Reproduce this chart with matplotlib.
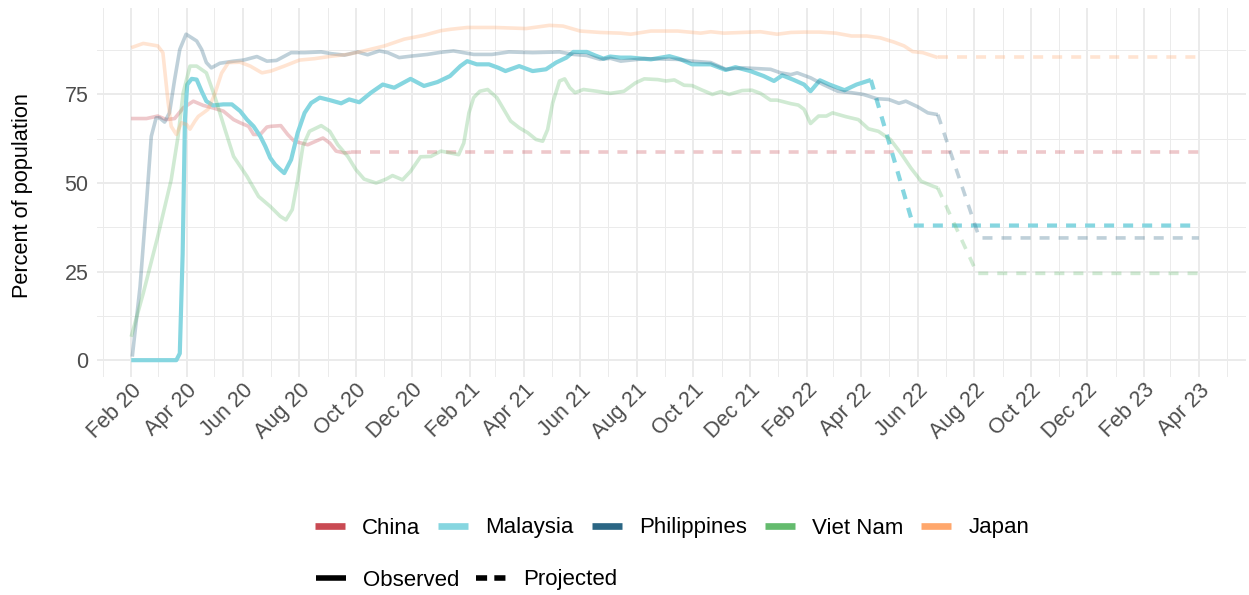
import matplotlib
matplotlib.use("Agg")
import matplotlib.pyplot as plt
import matplotlib.dates as mdates
import numpy as np
import pandas as pd
from matplotlib.lines import Line2D

plt.rcParams['font.family'] = ['Liberation Sans', 'DejaVu Sans']

# ---------------- data (x = months since Feb 2020) ----------------
countries = ["China", "Malaysia", "Philippines", "Viet Nam", "Japan"]
colors = ["#C94A53", "#86D6E0", "#2B6684", "#64BB6E", "#FFA76C"]

china_obs_m = [0, 0.57, 0.99, 1.29, 1.58, 1.88, 2.24, 2.6, 2.95, 3.31, 3.67, 3.9, 4.2, 4.38, 4.62,
               4.86, 5.0, 5.35, 5.59, 5.82, 6.29, 6.82, 7.06, 7.29, 7.59, 7.82]
china_obs_v = [68.2, 68.2, 68.9, 67.9, 68.2, 71.2, 73.1, 71.9, 71.2, 70.3, 67.9, 67.0, 66.0, 63.7, 63.7,
               65.8, 66.0, 66.2, 63.7, 61.8, 60.8, 62.7, 61.3, 59.0, 58.5, 58.7]
china_proj_m = [7.82, 38]
china_proj_v = [58.7, 58.7]

malaysia_obs_m = [0, 1.64, 1.76, 1.86, 1.94, 2.02, 2.18, 2.36, 2.54, 2.71, 2.95, 3.31, 3.61, 3.9, 4.14,
                  4.38, 4.62, 4.8, 4.98, 5.15, 5.33, 5.47, 5.71, 5.94, 6.18, 6.41, 6.71, 7.06, 7.47,
                  7.76, 8.12, 8.53, 8.94, 9.35, 9.94, 10.41, 10.88, 11.32, 11.68, 11.92, 12.28, 12.75,
                  13.11, 13.35, 13.83, 14.31, 14.79, 15.15, 15.51, 15.75, 16.23, 16.53, 16.83, 17.07,
                  17.43, 17.79, 18.49, 19.14, 19.55, 19.96, 20.61, 21.14, 21.49, 22.02, 22.49, 22.85,
                  23.14, 23.54, 23.9, 24.14, 24.5, 24.87, 25.41, 25.83, 26.34]
malaysia_obs_v = [0, 0, 1.9, 30, 68, 77.8, 79.4, 79.2, 75.9, 73.1, 71.9, 72.2, 72.2, 70.3, 67.9,
                  66.0, 63.2, 60.4, 57.1, 55.2, 53.8, 52.8, 56.6, 64.2, 69.8, 72.6, 74.1, 73.4, 72.5,
                  73.6, 72.8, 75.5, 77.8, 76.9, 79.4, 77.4, 78.5, 80.2, 83.0, 84.4, 83.5, 83.5,
                  82.5, 81.6, 83.0, 81.6, 82.1, 84.0, 85.4, 87.0, 87.0, 86.0, 85.1, 85.7,
                  85.4, 85.4, 84.9, 85.8, 84.9, 83.5, 83.5, 81.9, 82.7, 81.6, 80.2, 78.8,
                  80.4, 79.1, 77.8, 75.9, 79.0, 77.8, 76.2, 77.8, 79.1]
malaysia_proj_m = [26.34, 27.84, 38]
malaysia_proj_v = [79.1, 38.0, 38.0]

philippines_obs_m = [0.04, 0.33, 0.57, 0.75, 0.93, 1.05, 1.23, 1.4, 1.58, 1.76, 1.98, 2.18, 2.36, 2.54,
                     2.71, 2.89, 3.19, 3.67, 4.02, 4.5, 4.86, 5.2, 5.71, 6.18, 6.76, 7.12, 7.59, 8.06,
                     8.41, 8.82, 9.12, 9.53, 9.94, 10.53, 11.0, 11.44, 12.16, 12.87, 13.47, 14.31,
                     15.27, 15.75, 16.23, 16.71, 17.08, 17.44, 18.26, 19.44, 19.96, 20.61, 21.14,
                     21.78, 22.73, 23.08, 23.44, 23.66, 24.14, 24.63, 25.17, 25.65, 26.07, 26.55,
                     26.98, 27.34, 27.58, 28.0, 28.36, 28.72]
philippines_obs_v = [1.0, 20.7, 44.3, 63.2, 68.4, 68.4, 67.2, 69.8, 79.2, 87.7, 92.0, 91.0, 90.1, 87.7,
                     84.0, 82.5, 83.8, 84.4, 84.7, 85.7, 84.4, 84.6, 86.8, 86.8, 87.0, 86.5, 86.1, 87.0,
                     86.2, 87.3, 86.8, 85.4, 85.8, 86.3, 86.9, 87.3, 86.3, 86.3, 87.0, 86.8,
                     87.0, 86.3, 86.0, 84.9, 85.2, 84.4, 85.1, 84.9, 84.4, 84.0, 82.1,
                     82.5, 82.1, 81.1, 80.6, 81.1, 79.7, 77.8, 75.9, 75.5, 75.0, 73.8,
                     73.6, 72.5, 73.1, 71.5, 69.8, 69.3]
philippines_proj_m = [28.72, 30.18, 38]
philippines_proj_v = [69.3, 34.5, 34.5]

vietnam_obs_m = [0, 0.45, 0.99, 1.46, 1.7, 1.88, 2.12, 2.36, 2.71, 3.01, 3.37, 3.67, 4.14, 4.56, 4.98,
                 5.33, 5.53, 5.75, 5.94, 6.12, 6.35, 6.76, 7.06, 7.35, 7.71, 8.0, 8.29, 8.71, 9.06,
                 9.29, 9.65, 9.94, 10.29, 10.65, 11.0, 11.32, 11.62, 11.8, 11.98, 12.16, 12.4, 12.7,
                 13.05, 13.29, 13.53, 13.83, 14.13, 14.43, 14.67, 14.85, 15.03, 15.27, 15.45, 15.63,
                 15.81, 16.11, 16.59, 17.07, 17.55, 17.96, 18.26, 18.73, 19.02, 19.32, 19.67, 19.96,
                 20.26, 20.67, 20.96, 21.26, 21.73, 22.08, 22.38, 22.73, 22.96, 23.44, 23.7, 23.9,
                 24.14, 24.45, 24.75, 24.99, 25.47, 25.89, 26.25, 26.61, 27.04, 27.4, 27.76, 28.12,
                 28.48, 28.72]
vietnam_obs_v = [6.6, 18.9, 34.9, 50.9, 63.2, 75.5, 83.0, 83.0, 81.1, 74.5, 65.1, 57.5, 51.9, 46.2, 43.4,
                 40.6, 39.6, 42.5, 50.9, 60.4, 64.6, 66.2, 64.6, 60.8, 57.5, 53.8, 51.1, 50.0, 51.1,
                 52.1, 50.9, 53.3, 57.4, 57.5, 59.0, 58.5, 58.0, 61.3, 69.8, 74.1, 75.9, 76.4,
                 74.1, 70.8, 67.5, 65.6, 64.2, 62.3, 61.8, 65.1, 72.6, 78.8, 79.4, 76.9,
                 75.5, 76.4, 75.9, 75.3, 75.9, 78.3, 79.4, 79.2, 78.8, 79.1, 77.6, 77.5,
                 76.4, 75.0, 75.8, 75.0, 76.1, 76.2, 75.3, 73.4, 73.4, 72.4, 72.0, 70.8,
                 66.8, 68.9, 68.9, 69.8, 68.7, 67.9, 65.3, 64.6, 62.3, 58.5, 54.2, 50.5,
                 49.3, 48.6]
vietnam_proj_m = [28.72, 30.1, 38]
vietnam_proj_v = [48.6, 24.5, 24.5]

japan_obs_m = [0, 0.45, 0.99, 1.17, 1.35, 1.46, 1.64, 1.82, 2.0, 2.12, 2.3, 2.42, 2.6, 2.77, 3.01,
               3.25, 3.49, 3.9, 4.26, 4.68, 5.0, 5.47, 6.0, 6.53, 7.12, 7.71, 8.29, 9.0, 9.71, 10.41,
               11.0, 11.35, 11.92, 12.99, 14.07, 14.91, 15.39, 15.99, 16.71, 17.43, 17.79, 18.49,
               19.44, 20.26, 20.61, 21.08, 22.38, 22.96, 23.44, 23.9, 24.5, 25.11, 25.65, 26.19,
               26.67, 27.16, 27.52, 27.82, 28.18, 28.72]
japan_obs_v = [88.2, 89.4, 88.7, 86.8, 73.0, 66.0, 63.7, 67.0, 66.5, 65.2, 67.5, 68.8, 69.8, 70.8, 75.0,
               81.0, 84.0, 84.1, 83.0, 81.1, 81.6, 83.0, 84.7, 85.1, 85.8, 86.3, 87.3, 88.7, 90.6, 91.7,
               93.0, 93.4, 93.9, 93.9, 93.6, 94.5, 94.3, 92.9, 92.5, 92.3, 92.0, 92.9,
               92.9, 92.3, 92.7, 92.3, 92.7, 92.0, 92.5, 92.6, 92.6, 92.3, 91.5, 91.5,
               91.0, 89.8, 88.7, 87.1, 86.8, 85.4]
japan_proj_m = [28.72, 38]
japan_proj_v = [85.5, 85.5]

y_major = [0, 25, 50, 75]
y_minor = [12.5, 37.5, 62.5, 87.5]
scenario_labels = ["Observed", "Projected"]

series = [
    (china_obs_m, china_obs_v, china_proj_m, china_proj_v),
    (malaysia_obs_m, malaysia_obs_v, malaysia_proj_m, malaysia_proj_v),
    (philippines_obs_m, philippines_obs_v, philippines_proj_m, philippines_proj_v),
    (vietnam_obs_m, vietnam_obs_v, vietnam_proj_m, vietnam_proj_v),
    (japan_obs_m, japan_obs_v, japan_proj_m, japan_proj_v),
]
highlight = "Malaysia"

BASE = pd.Timestamp("2020-02-01")


def m2date(ms):
    out = []
    for m in ms:
        k = int(np.floor(m))
        frac = m - k
        s = BASE + pd.DateOffset(months=k)
        e = BASE + pd.DateOffset(months=k + 1)
        out.append(s + (e - s) * frac)
    return pd.to_datetime(out)


# ---------------- figure ----------------
W, H = 1249, 595
fig = plt.figure(figsize=(W / 100, H / 100), dpi=100)
L, R, T, B = 97, 1246, 8, 377
ax = fig.add_axes([L / W, 1 - B / H, (R - L) / W, (B - T) / H])

for name, col, (om, ov, pm, pv) in zip(countries, colors, series):
    hl = name == highlight
    a = 1.0 if hl else 0.3
    lw = 3.0 if hl else 2.6
    ax.plot(m2date(om), ov, color=col, alpha=a, lw=lw, solid_capstyle='butt',
            solid_joinstyle='round', zorder=3)
    ax.plot(m2date(pm), pv, color=col, alpha=a, lw=lw,
            linestyle=(0, (7.2 / lw, 6.5 / lw)), dash_capstyle='butt', zorder=3)

ax.set_xlim(pd.Timestamp("2019-12-26"), pd.Timestamp("2023-05-22"))
ax.set_ylim(-4.75, 99.4)

major_x = pd.date_range("2020-02-01", "2023-04-01", freq="2MS")
minor_x = pd.date_range("2020-01-01", "2023-05-01", freq="2MS")
ax.set_xticks(major_x)
ax.set_xticks(minor_x, minor=True)
ax.xaxis.set_major_formatter(mdates.DateFormatter("%b %y"))
ax.set_yticks(y_major)
ax.set_yticks(y_minor, minor=True)

ax.grid(which='major', color='#EBEBEB', lw=1.4)
ax.grid(which='minor', color='#EBEBEB', lw=0.7)
ax.set_axisbelow(True)
for s in ax.spines.values():
    s.set_visible(False)
ax.tick_params(which='both', length=0)
ax.tick_params(axis='x', pad=2, labelsize=15.5, labelcolor='#4D4D4D')
ax.tick_params(axis='y', pad=6, labelsize=15.5, labelcolor='#4D4D4D')
for lab in ax.get_xticklabels():
    lab.set_rotation(45)
    lab.set_ha('right')
    lab.set_va('top')
    lab.set_rotation_mode('anchor')

fig.text(23 / W, 1 - 196 / H, "Percent of population", rotation=90, ha='center', va='center',
         fontsize=15.7, color='black')

# ---------------- legends ----------------
h1 = [Line2D([], [], color=c, lw=4.8, solid_capstyle='butt') for c in colors]
leg1 = fig.legend(h1, countries, loc='center', bbox_to_anchor=(672 / W, 1 - 528 / H), ncol=5,
                  frameon=False, fontsize=16, handlelength=1.35, handletextpad=0.77,
                  columnspacing=0.81, borderpad=0, borderaxespad=0)
h2 = [Line2D([], [], color='black', lw=4.0, solid_capstyle='butt'),
      Line2D([], [], color='black', lw=4.0, linestyle=(0, (2.0, 1.3)), dash_capstyle='butt')]
leg2 = fig.legend(h2, scenario_labels, loc='center left', bbox_to_anchor=(316 / W, 1 - 580 / H),
                  ncol=2, frameon=False, fontsize=16, handlelength=1.35, handletextpad=0.77,
                  columnspacing=0.75, borderpad=0, borderaxespad=0)

fig.savefig("out.png", dpi=100)
